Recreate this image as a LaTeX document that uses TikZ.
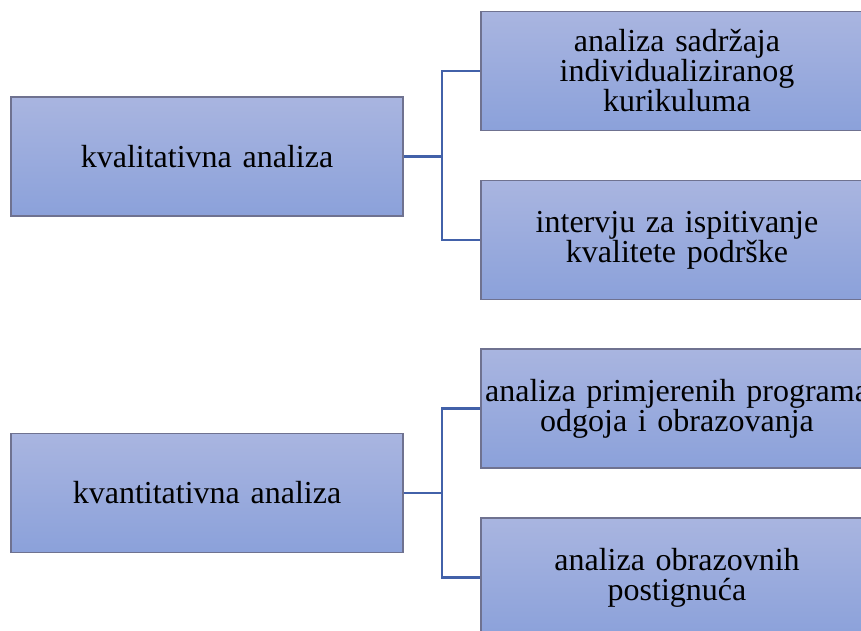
\documentclass[tikz,border=0pt]{standalone}
\usepackage{fontspec}
\setmainfont{Liberation Serif}
\definecolor{boxtop}{HTML}{A9B5E0}
\definecolor{boxbot}{HTML}{8BA1DA}
\definecolor{boxline}{HTML}{6F7290}
\definecolor{conn}{HTML}{4261A9}
\tikzset{
  box/.style={draw=boxline, line width=1.2pt, top color=boxtop, bottom color=boxbot,
    minimum width=392pt, minimum height=119pt, text width=390pt, inner sep=0pt,
    align=center, font=\fontsize{32pt}{30pt}\selectfont},
  link/.style={draw=conn, line width=2.4pt}
}
\begin{document}
\begin{tikzpicture}[x=1pt,y=-1pt]
\useasboundingbox (0,0) rectangle (861,631);
\clip (0,0) rectangle (861,631);
\node[box] (L1) at (207,156.5) {kvalitativna analiza};
\node[box] (R1) at (677,71) {analiza sadržaja\\individualiziranog\\kurikuluma};
\node[box] (R2) at (677,240) {intervju za ispitivanje\\kvalitete podrške};
\node[box] (L2) at (207,493) {kvantitativna analiza};
\node[box] (R3) at (677,408.5) {analiza primjerenih programa\\odgoja i obrazovanja};
\node[box] (R4) at (677,577.5) {analiza obrazovnih\\postignuća};
\coordinate (j1) at (442,156.5);
\coordinate (j2) at (442,493);
\draw[link] (L1.east) -- (j1);
\draw[link] (j1) |- (R1.west);
\draw[link] (j1) |- (R2.west);
\draw[link] (L2.east) -- (j2);
\draw[link] (j2) |- (R3.west);
\draw[link] (j2) |- (R4.west);
\end{tikzpicture}
\end{document}
